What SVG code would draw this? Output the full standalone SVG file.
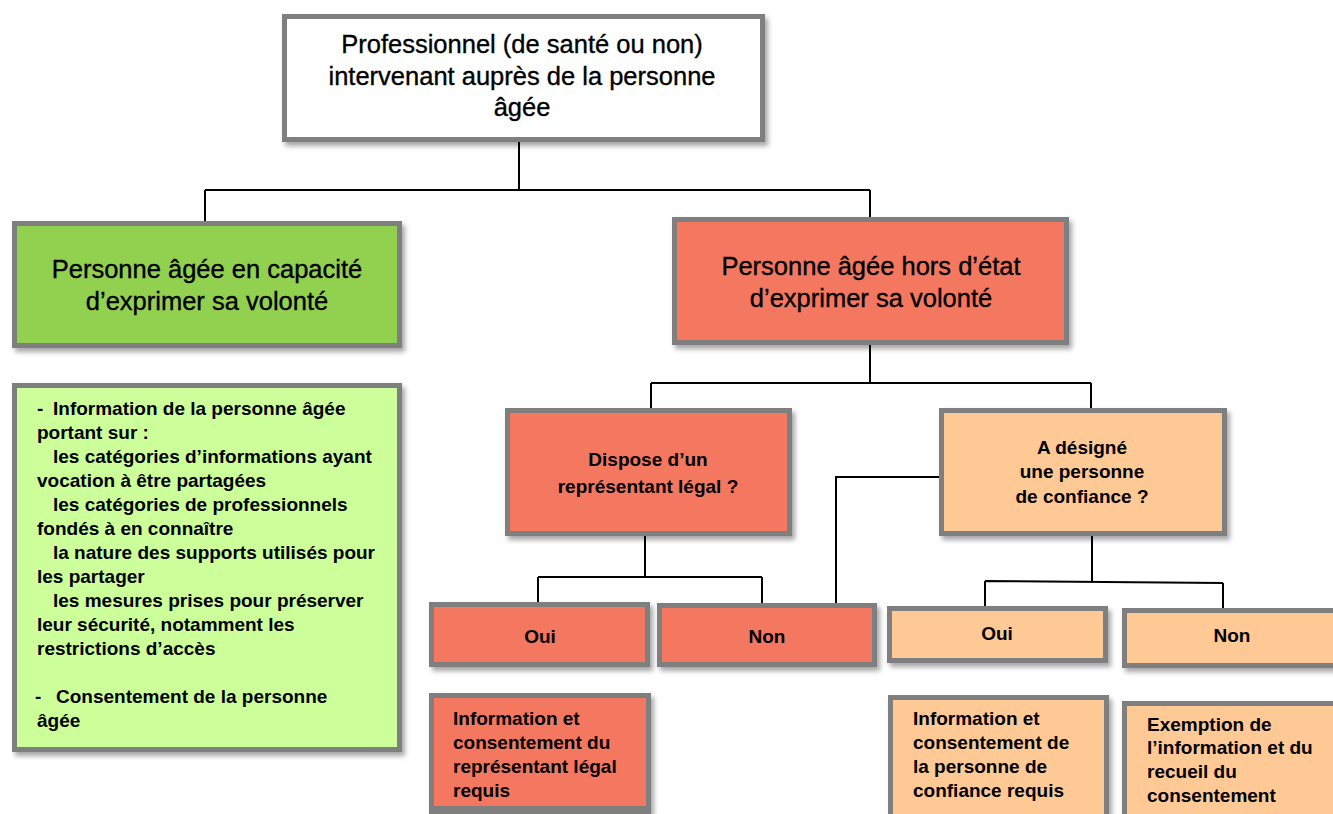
<svg xmlns="http://www.w3.org/2000/svg" width="1333" height="814" viewBox="0 0 1333 814">
<style>
.box{stroke:#7f7f7f;stroke-width:5;filter:url(#sh)}
.w{fill:#ffffff}.g{fill:#92d050}.lg{fill:#ccff99}.r{fill:#f4775e}.o{fill:#ffc996}
.big{font-family:"Liberation Sans",Arial,sans-serif;font-size:25.5px;fill:#000;text-anchor:middle;stroke:#000;stroke-width:0.35}
.sm{font-family:"Liberation Sans",Arial,sans-serif;font-size:19px;font-weight:bold;fill:#000}
.c{text-anchor:middle}
.ln{stroke:#000;stroke-width:2;fill:none}
</style>
<defs>
<filter id="sh" x="-10%" y="-10%" width="130%" height="140%">
<feDropShadow dx="3" dy="4" stdDeviation="2.5" flood-color="#000" flood-opacity="0.35"/>
</filter>
</defs>
<rect width="1333" height="814" fill="#ffffff"/>
<g id="connectors">
<path class="ln" d="M519 142V190M205 190H870M205 190V222M870 190V218M870 345V383M651 383H1091M651 383V409M1091 383V409M645 536V577M538 577H762M538 577V603M762 577V604M836 604V477H940M1092 536V582M985 581L1223 583M985 581V607M1223 583V609"/>
</g>
<g id="n-pro">
<rect class="box w" x="284.5" y="16.5" width="478" height="123"/>
<text class="big" x="522" y="53">Professionnel (de santé ou non)</text>
<text class="big" x="522" y="85">intervenant auprès de la personne</text>
<text class="big" x="522" y="116">âgée</text>
</g>
<g id="n-capable">
<rect class="box g" x="14.5" y="223.5" width="385" height="122"/>
<text class="big" x="207" y="278">Personne âgée en capacité</text>
<text class="big" x="207" y="310">d’exprimer sa volonté</text>
</g>
<g id="n-hors">
<rect class="box r" x="674.5" y="219.5" width="392" height="123"/>
<text class="big" x="871" y="275">Personne âgée hors d’état</text>
<text class="big" x="871" y="307">d’exprimer sa volonté</text>
</g>
<g id="n-info">
<rect class="box lg" x="14.5" y="385.5" width="385" height="364"/>
<text class="sm"><tspan x="37" y="415">-</tspan><tspan x="53" y="415">Information de la personne âgée</tspan><tspan x="37" y="439">portant sur :</tspan><tspan x="53" y="463">les catégories d’informations ayant</tspan><tspan x="37" y="487">vocation à être partagées</tspan><tspan x="53" y="511">les catégories de professionnels</tspan><tspan x="37" y="535">fondés à en connaître</tspan><tspan x="53" y="559">la nature des supports utilisés pour</tspan><tspan x="37" y="583">les partager</tspan><tspan x="53" y="607">les mesures prises pour préserver</tspan><tspan x="37" y="631">leur sécurité, notamment les</tspan><tspan x="37" y="655">restrictions d’accès</tspan><tspan x="35" y="703">-</tspan><tspan x="56" y="703">Consentement de la personne</tspan><tspan x="37" y="727">âgée</tspan></text>
</g>
<g id="n-rep">
<rect class="box r" x="507.5" y="410.5" width="282" height="123"/>
<text class="sm c" x="648" y="466">Dispose d’un</text>
<text class="sm c" x="648" y="493">représentant légal ?</text>
</g>
<g id="n-conf">
<rect class="box o" x="941.5" y="410.5" width="283" height="123"/>
<text class="sm c" x="1082" y="454">A désigné</text>
<text class="sm c" x="1082" y="478">une personne</text>
<text class="sm c" x="1082" y="503">de confiance ?</text>
</g>
<g id="n-rep-oui">
<rect class="box r" x="431.5" y="604.5" width="216" height="60"/>
<text class="sm c" x="540" y="643">Oui</text>
</g>
<g id="n-rep-non">
<rect class="box r" x="659.5" y="605.5" width="215" height="59"/>
<text class="sm c" x="767" y="643">Non</text>
</g>
<g id="n-conf-oui">
<rect class="box o" x="889.5" y="608.5" width="216" height="52"/>
<text class="sm c" x="997" y="640">Oui</text>
</g>
<g id="n-conf-non">
<rect class="box o" x="1124.5" y="610.5" width="240" height="55"/>
<text class="sm c" x="1232" y="642">Non</text>
</g>
<g id="n-res-rep">
<rect class="box r" x="431.5" y="695.5" width="217" height="115"/>
<text class="sm"><tspan x="453" y="725">Information et</tspan><tspan x="453" y="749">consentement du</tspan><tspan x="453" y="773">représentant légal</tspan><tspan x="453" y="797">requis</tspan></text>
<rect x="429" y="806" width="222" height="8" fill="#7f7f7f"/>
</g>
<g id="n-res-conf">
<rect class="box o" x="890.5" y="697.5" width="216" height="130"/>
<text class="sm"><tspan x="913" y="725">Information et</tspan><tspan x="913" y="749">consentement de</tspan><tspan x="913" y="773">la personne de</tspan><tspan x="913" y="797">confiance requis</tspan></text>
</g>
<g id="n-res-exempt">
<rect class="box o" x="1124.5" y="703.5" width="240" height="130"/>
<text class="sm"><tspan x="1147" y="731">Exemption de</tspan><tspan x="1147" y="754">l’information et du</tspan><tspan x="1147" y="778">recueil du</tspan><tspan x="1147" y="802">consentement</tspan></text>
</g>
</svg>
